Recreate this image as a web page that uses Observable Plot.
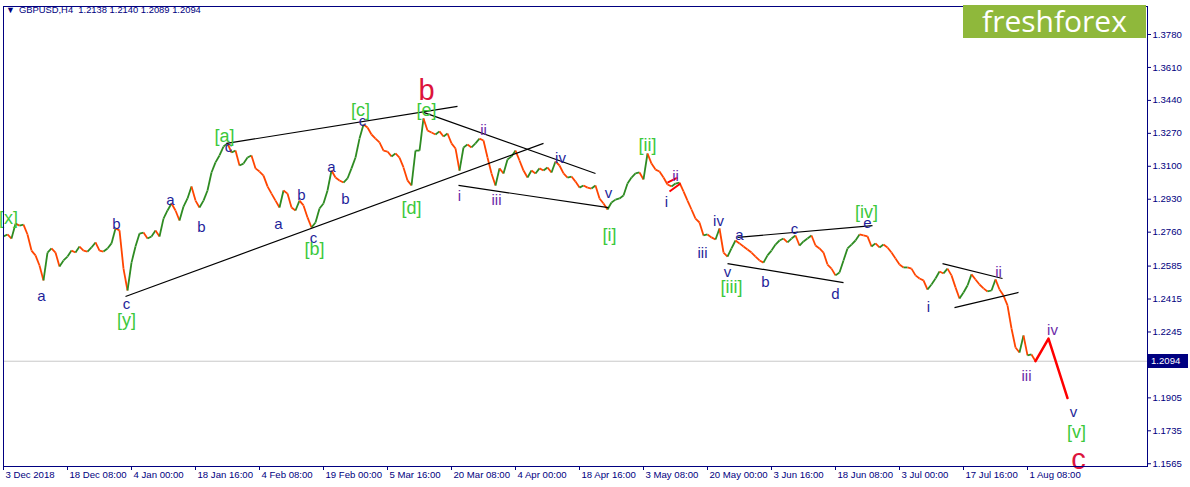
<!DOCTYPE html>
<html><head><meta charset="utf-8">
<script src="https://cdn.jsdelivr.net/npm/d3@7"></script>
<script src="https://cdn.jsdelivr.net/npm/@observablehq/plot@0.6"></script>
<style>
body{margin:0;background:#fff;}
#wrap{position:relative;width:1190px;height:487px;font-family:"Liberation Sans",Arial,sans-serif;overflow:hidden;}
#title{position:absolute;left:6px;top:4px;font-size:9.4px;color:#000080;white-space:pre;}
#title .tri{font-size:9px;margin-right:4px;}
#logo{position:absolute;left:963px;top:5px;width:183px;height:33px;background:#8fb83b;color:#fff;font-size:30px;line-height:32px;text-align:center;font-family:"Open Sans","Liberation Sans",sans-serif;}
#pbox{position:absolute;left:1148px;width:40px;height:14px;background:#000080;color:#fff;font-size:9.6px;line-height:14px;padding-left:3px;box-sizing:border-box;}
</style>
</head><body>
<div id="wrap">
<div id="chart"></div>
<div id="title"><span class="tri">&#9660;</span>GBPUSD,H4  1.2138 1.2140 1.2089 1.2094</div>
<div id="logo">freshforex</div>
<div id="pbox">1.2094</div>
</div>
<script>
// ---- data ----
const tickLabels = ["3 Dec 2018","18 Dec 08:00","4 Jan 00:00","18 Jan 16:00","4 Feb 08:00","19 Feb 00:00","5 Mar 16:00","20 Mar 08:00","4 Apr 00:00","18 Apr 16:00","3 May 08:00","20 May 00:00","3 Jun 16:00","18 Jun 08:00","3 Jul 00:00","17 Jul 16:00","1 Aug 08:00"];
const barsPerLabel = 64;
const barsPerSample = 4;
const closes = [
1.2738,1.2748,1.2727,1.2804,1.2794,1.2799,1.2748,1.2665,1.2640,1.2588,1.2511,1.2655,1.2676,1.2655,1.2583,1.2614,1.2634,1.2665,1.2655,1.2686,
1.2665,1.2660,1.2681,1.2707,1.2665,1.2660,1.2676,1.2702,1.2779,1.2769,1.2572,1.2459,1.2603,1.2686,1.2753,1.2758,1.2727,1.2738,1.2769,1.2738,
1.2830,1.2872,1.2908,1.2872,1.2820,1.2892,1.2934,1.2996,1.2923,1.2887,1.2923,1.2975,1.3068,1.3120,1.3156,1.3202,1.3218,1.3171,1.3181,1.3104,
1.3114,1.3145,1.3156,1.3089,1.3073,1.3052,1.2996,1.2959,1.2923,1.2887,1.2975,1.2959,1.2887,1.2872,1.2923,1.2898,1.2836,1.2784,1.2810,1.2882,
1.2908,1.2975,1.3078,1.3042,1.3027,1.3016,1.3037,1.3089,1.3145,1.3243,1.3316,1.3300,1.3264,1.3243,1.3223,1.3181,1.3176,1.3151,1.3166,1.3145,
1.3094,1.3027,1.3001,1.3181,1.3181,1.3347,1.3285,1.3274,1.3264,1.3280,1.3254,1.3269,1.3218,1.3192,1.3078,1.3197,1.3212,1.3197,1.3218,1.3243,
1.3233,1.3145,1.3063,1.3001,1.3089,1.3063,1.3135,1.3151,1.3181,1.3130,1.3078,1.3042,1.3078,1.3063,1.3089,1.3078,1.3094,1.3068,1.3125,1.3104,
1.3063,1.3042,1.3047,1.3021,1.2990,1.3001,1.2990,1.2985,1.3001,1.2934,1.2908,1.2877,1.2913,1.2928,1.2934,1.2949,1.3011,1.3042,1.3063,1.3068,
1.3032,1.3166,1.3114,1.3083,1.3073,1.3042,1.3006,1.2996,1.3011,1.3016,1.2970,1.2923,1.2877,1.2830,1.2810,1.2743,1.2748,1.2733,1.2722,1.2779,
1.2655,1.2634,1.2676,1.2717,1.2702,1.2686,1.2671,1.2655,1.2634,1.2614,1.2603,1.2640,1.2665,1.2696,1.2717,1.2727,1.2707,1.2727,1.2743,1.2691,
1.2712,1.2727,1.2743,1.2691,1.2676,1.2655,1.2593,1.2572,1.2537,1.2552,1.2614,1.2676,1.2696,1.2717,1.2748,1.2743,1.2738,1.2686,1.2702,1.2681,
1.2696,1.2681,1.2655,1.2624,1.2593,1.2578,1.2578,1.2572,1.2537,1.2521,1.2511,1.2464,1.2490,1.2521,1.2557,1.2547,1.2572,1.2537,1.2475,1.2418,
1.2449,1.2485,1.2542,1.2516,1.2490,1.2470,1.2454,1.2459,1.2516,1.2464,1.2433,1.2382,1.2263,1.2165,1.2139,1.2227,1.2124,1.2129,1.2094
];
const yTicks = [1.3780,1.3610,1.3440,1.3270,1.3100,1.2930,1.2760,1.2585,1.2415,1.2245,1.2075,1.1905,1.1735,1.1565];
const lastPrice = 1.2094;
const projBars = [1032, 1045, 1064];
const projPrices = [1.2094, 1.2211, 1.1904];
// trendlines: bar1, price1, bar2, price2
const trendBar1 = [223, 122, 420, 455, 734, 724, 939, 951];
const trendP1   = [1.3218, 1.2428, 1.3378, 1.3001, 1.2733, 1.2598, 1.2598, 1.2371];
const trendBar2 = [454, 540, 592, 605, 869, 840, 999, 1015];
const trendP2   = [1.3409, 1.3218, 1.3063, 1.2887, 1.2794, 1.2500, 1.2521, 1.2449];
const redBar1 = [664, 666], redP1 = [1.3016, 1.2970], redBar2 = [674, 677], redP2 = [1.3042, 1.3011];
// wave labels
const waveText = ["[x]","a","b","c","[y]","a","b","[a]","c","a","b","c","[b]","a","b","[c]","c","b","[e]","[d]","i","ii","iii","iv","v","[i]","[ii]","ii","i","iii","iv","v","[iii]","a","b","c","d","[iv]","e","i","ii","iii","iv","v","[v]","c"];
const waveBar  = [5,38,113,123,123,167,198,221,225,275,298,310,311,328,342,357,359,423,423,408,456,480,493,557,605,606,644,672,663,699,715,724,728,736,762,791,832,863,864,925,995,1023,1049,1070,1073,1075];
const wavePrice= [1.2830,1.2428,1.2799,1.2387,1.2304,1.2923,1.2784,1.3254,1.3200,1.2799,1.2949,1.2727,1.2671,1.3094,1.2928,1.3388,1.3333,1.3491,1.3388,1.2882,1.2944,1.3285,1.2923,1.3140,1.2959,1.2743,1.3207,1.3047,1.2913,1.2650,1.2815,1.2552,1.2475,1.2743,1.2500,1.2774,1.2438,1.2861,1.2807,1.2371,1.2552,1.2015,1.2253,1.1830,1.1726,1.1587];
const waveDegree=["bracket","minor","minor","minor","bracket","minor","minor","bracket","minor","minor","minor","minor","bracket","minor","minor","bracket","minor","major","bracket","bracket","minute","minute","minute","minor","minor","bracket","bracket","minute","minor","minor","minor","minor","bracket","minor","minor","minor","minor","bracket","minor","minor","minute","minute","minute","minor","bracket","major"];

// ---- derived tables ----
const series = closes.map((p, i) => ({bar: i * barsPerSample, p}));
const segs = series.slice(1).map((d, i) => ({x1: series[i].bar, y1: series[i].p, x2: d.bar, y2: d.p, up: d.p >= series[i].p}));
const tickBars = tickLabels.map((_, i) => i * barsPerLabel);
const trends = trendBar1.map((b, i) => ({x1: b, y1: trendP1[i], x2: trendBar2[i], y2: trendP2[i]}));
const reds = redBar1.map((b, i) => ({x1: b, y1: redP1[i], x2: redBar2[i], y2: redP2[i]}));
const proj = projBars.map((b, i) => ({bar: b, p: projPrices[i]}));
const waves = waveText.map((t, i) => ({t, bar: waveBar[i], p: wavePrice[i], deg: waveDegree[i]}));
const degColor = {minor: "#1f1f9a", minute: "#6a2aa8", bracket: "#3cc83c", major: "#dc143c"};
const degSize = {minor: 15, minute: 15, bracket: 18, major: 29};
const navy = "#000080";

const chart = Plot.plot({
  width: 1190, height: 487,
  marginTop: 6, marginBottom: 21, marginLeft: 3, marginRight: 43,
  style: {fontFamily: "'Liberation Sans', Arial, sans-serif", fontSize: "9.6px", color: navy, background: "#fff"},
  x: {domain: [0, 1144], axis: null},
  y: {domain: [1.15508, 1.39245], axis: null},
  marks: [
    Plot.ruleY([lastPrice], {stroke: "#c8c8c8", strokeWidth: 1}),
    Plot.link(segs, {x1: "x1", y1: "y1", x2: "x2", y2: "y2", stroke: d => d.up ? "#2e8b22" : "#ff4500", strokeWidth: 1.8}),
    Plot.link(trends, {x1: "x1", y1: "y1", x2: "x2", y2: "y2", stroke: "#000", strokeWidth: 1.2}),
    Plot.link(reds, {x1: "x1", y1: "y1", x2: "x2", y2: "y2", stroke: "#ff0000", strokeWidth: 2}),
    Plot.line(proj, {x: "bar", y: "p", stroke: "#ff0000", strokeWidth: 2.5}),
    ...["minor","minute","bracket","major"].map(g => Plot.text(waves.filter(d => d.deg === g), {
      x: "bar", y: "p", text: "t", fill: degColor[g], fontSize: degSize[g],
      fontFamily: "'Liberation Sans', Arial, sans-serif", lineAnchor: "middle", textAnchor: "middle"
    })),
    Plot.frame({stroke: navy, strokeWidth: 1}),
    Plot.axisY(yTicks, {anchor: "right", tickSize: 3, tickPadding: 2, tickFormat: d => d.toFixed(4), stroke: navy, fill: navy}),
    Plot.axisX(tickBars, {anchor: "bottom", tickSize: 4, tickFormat: () => "", stroke: navy}),
    Plot.text(tickBars, {x: d => d, frameAnchor: "bottom", dy: 11, dx: 2, textAnchor: "start", text: (d, i) => tickLabels[i], fill: navy})
  ]
});
document.getElementById("chart").appendChild(chart);
const py = chart.scale("y").apply(lastPrice);
document.getElementById("pbox").style.top = (py - 7) + "px";
</script>
</body></html>
